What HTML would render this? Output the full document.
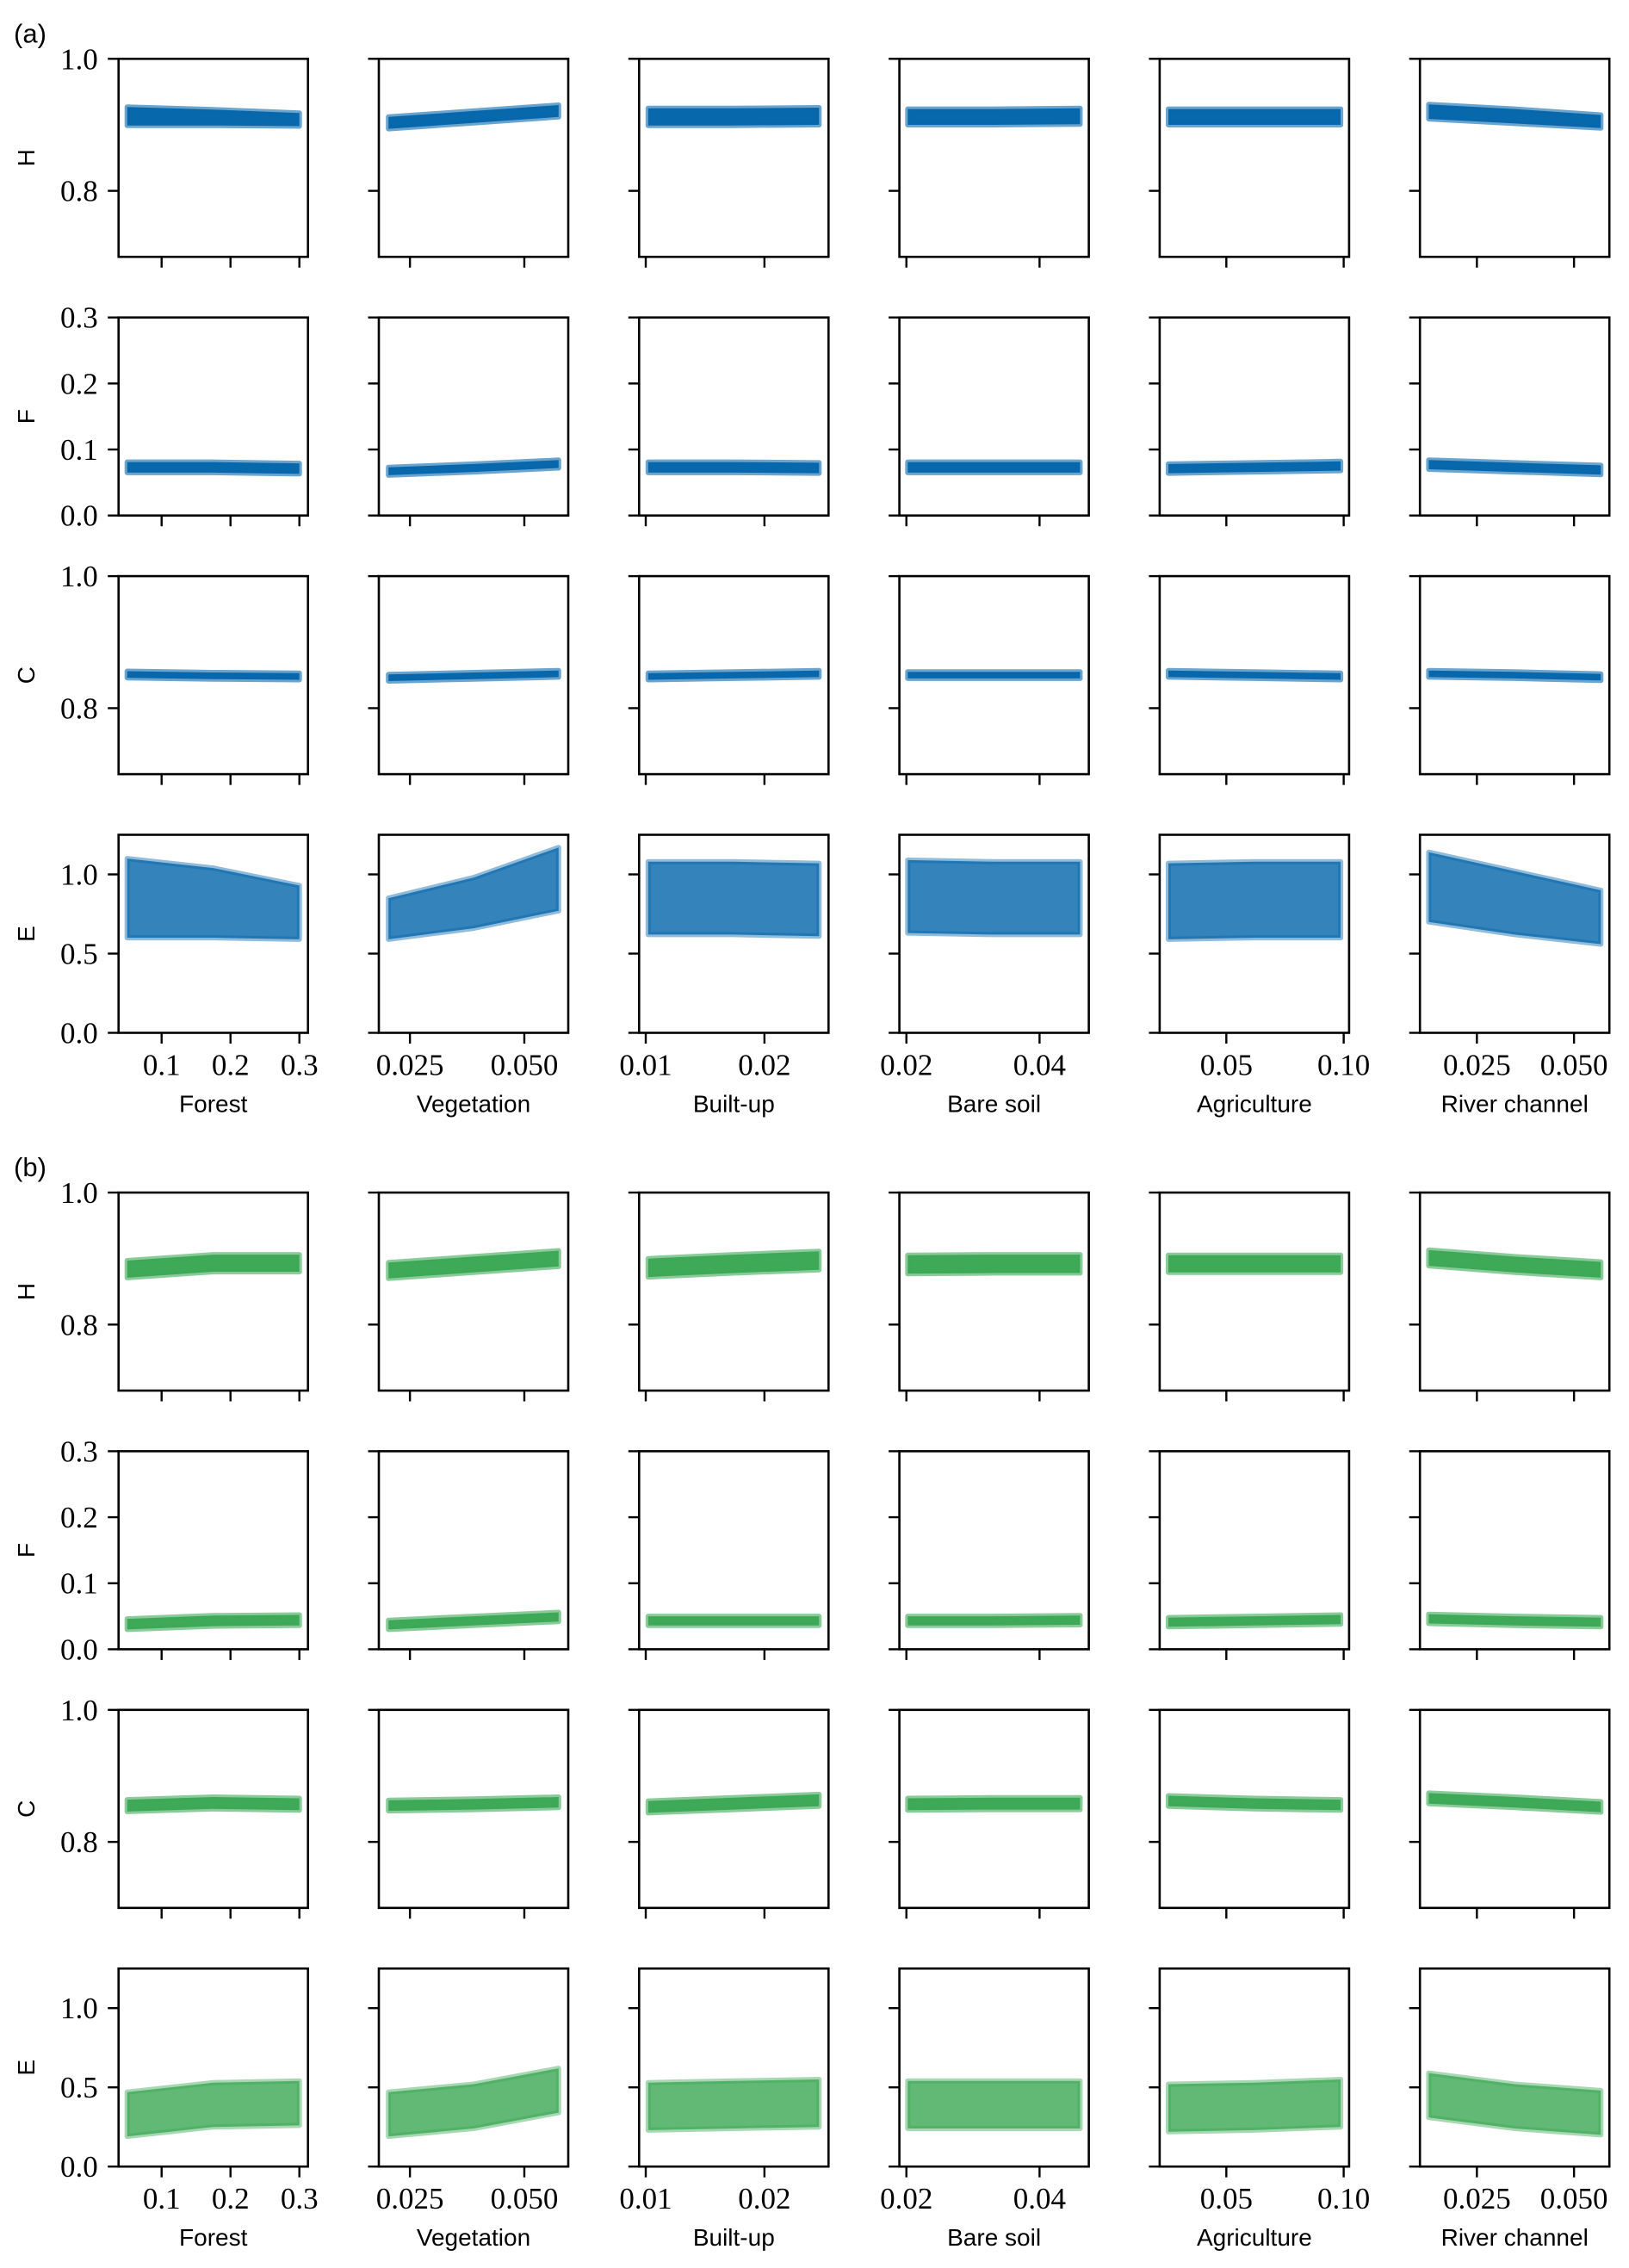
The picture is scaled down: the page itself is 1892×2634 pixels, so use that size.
<!DOCTYPE html>
<html><head><meta charset="utf-8"><style>
html,body{margin:0;padding:0;background:#fff}
svg{display:block}
.tl{font-family:"Liberation Serif",serif;font-size:35px;fill:#000}
.al{font-family:"Liberation Sans",sans-serif;font-size:28px;fill:#000}
</style></head><body>
<svg id="fig" width="1892" height="2634" viewBox="0 0 1892 2634" xmlns="http://www.w3.org/2000/svg"></svg>
<script>
// ---- data ----
const categories = ["Forest","Vegetation","Built-up","Bare soil","Agriculture","River channel"];
const variables = ["H","F","C","E"];
const xDomains = [[0.0375,0.3125],[0.0182,0.0596],[0.00944,0.0254],[0.01895,0.0474],[0.0216,0.1023],[0.01034,0.0591]];
const xDataRanges = [[0.05,0.30],[0.0203,0.0575],[0.0102,0.0246],[0.0202,0.0461],[0.0253,0.0987],[0.0126,0.0569]];
const xTicks = [[0.1,0.2,0.3],[0.025,0.05],[0.01,0.02],[0.02,0.04],[0.05,0.10],[0.025,0.05]];
const xTickLabels = [["0.1","0.2","0.3"],["0.025","0.050"],["0.01","0.02"],["0.02","0.04"],["0.05","0.10"],["0.025","0.050"]];
const yDomains = [[0.7,1.0],[0,0.3],[0.7,1.0],[0,1.25]];
const yTicks = [[0.8,1.0],[0,0.1,0.2,0.3],[0.8,1.0],[0,0.5,1.0]];
const yTickLabels = [["0.8","1.0"],["0.0","0.1","0.2","0.3"],["0.8","1.0"],["0.0","0.5","1.0"]];
// band centres (start, mid, end) and half-widths per panel: [variable][category]
const centerA_H = [[0.913,0.911,0.908],[0.903,0.912,0.921],[0.912,0.912,0.913],[0.912,0.912,0.913],[0.912,0.912,0.912],[0.920,0.913,0.905]];
const spreadA_H = [[0.014,0.012,0.010],[0.009,0.009,0.009],[0.013,0.013,0.013],[0.012,0.012,0.012],[0.012,0.012,0.012],[0.011,0.011,0.010]];
const centerA_F = [[0.073,0.073,0.071],[0.067,0.072,0.078],[0.073,0.073,0.072],[0.073,0.073,0.073],[0.071,0.073,0.075],[0.077,0.073,0.069]];
const spreadA_F = [[0.008,0.008,0.008],[0.006,0.006,0.006],[0.008,0.008,0.008],[0.008,0.008,0.008],[0.007,0.007,0.007],[0.007,0.007,0.007]];
const centerA_C = [[0.851,0.849,0.848],[0.846,0.849,0.852],[0.848,0.850,0.852],[0.850,0.850,0.850],[0.852,0.850,0.848],[0.852,0.850,0.847]];
const spreadA_C = [[0.005,0.005,0.005],[0.005,0.005,0.005],[0.005,0.005,0.005],[0.005,0.005,0.005],[0.005,0.005,0.005],[0.005,0.005,0.005]];
const centerA_E = [[0.85,0.82,0.76],[0.72,0.82,0.97],[0.85,0.85,0.84],[0.86,0.85,0.85],[0.83,0.84,0.84],[0.92,0.82,0.73]];
const spreadA_E = [[0.25,0.22,0.17],[0.13,0.16,0.20],[0.23,0.23,0.23],[0.23,0.23,0.23],[0.24,0.24,0.24],[0.22,0.20,0.17]];
const centerB_H = [[0.884,0.893,0.893],[0.882,0.891,0.900],[0.886,0.892,0.897],[0.891,0.892,0.892],[0.892,0.892,0.892],[0.901,0.891,0.883]];
const spreadB_H = [[0.013,0.013,0.013],[0.012,0.012,0.012],[0.014,0.014,0.014],[0.014,0.014,0.014],[0.013,0.013,0.013],[0.012,0.012,0.012]];
const centerB_F = [[0.038,0.043,0.044],[0.037,0.043,0.049],[0.043,0.043,0.043],[0.043,0.043,0.044],[0.041,0.043,0.045],[0.046,0.043,0.041]];
const spreadB_F = [[0.008,0.008,0.008],[0.007,0.007,0.007],[0.007,0.007,0.007],[0.007,0.007,0.007],[0.007,0.007,0.007],[0.007,0.007,0.007]];
const centerB_C = [[0.855,0.859,0.857],[0.855,0.857,0.860],[0.853,0.858,0.863],[0.857,0.858,0.858],[0.862,0.858,0.856],[0.866,0.860,0.853]];
const spreadB_C = [[0.009,0.009,0.009],[0.008,0.008,0.008],[0.009,0.009,0.009],[0.009,0.009,0.009],[0.008,0.008,0.008],[0.008,0.008,0.008]];
const centerB_E = [[0.33,0.39,0.40],[0.33,0.38,0.48],[0.38,0.39,0.40],[0.39,0.39,0.39],[0.37,0.38,0.40],[0.45,0.38,0.34]];
const spreadB_E = [[0.14,0.14,0.14],[0.14,0.14,0.14],[0.15,0.15,0.15],[0.15,0.15,0.15],[0.15,0.15,0.15],[0.14,0.14,0.14]];

// ---- layout ----
const NS = "http://www.w3.org/2000/svg";
const svg = document.getElementById("fig");
const colLeft0 = 137.7, colStep = 302.3, panelW = 220;
const rowTop0 = 68.3, rowStep = 300.4, panelH = 230, groupOffset = 1316.7;
const groups = [
  {label:"(a)", color:"#0868ac", centers:[centerA_H,centerA_F,centerA_C,centerA_E], spreads:[spreadA_H,spreadA_F,spreadA_C,spreadA_E]},
  {label:"(b)", color:"#3ea957", centers:[centerB_H,centerB_F,centerB_C,centerB_E], spreads:[spreadB_H,spreadB_F,spreadB_C,spreadB_E]}
];
function mk(tag, attrs, parent){
  const e = document.createElementNS(NS, tag);
  for (const k in attrs) e.setAttribute(k, attrs[k]);
  (parent||svg).appendChild(e);
  return e;
}
groups.forEach((g, gi) => {
  const gTop = rowTop0 + gi*groupOffset;
  const lab = mk("text", {x:16, y:gTop-19, "font-family":"Liberation Sans, sans-serif", "font-size":31});
  
  
  lab.textContent = g.label;
  variables.forEach((v, vi) => {
    const top = gTop + vi*rowStep, bottom = top + panelH;
    const [y0, y1] = yDomains[vi];
    const yS = val => bottom - (val - y0)/(y1 - y0)*panelH;
    categories.forEach((c, ci) => {
      const left = colLeft0 + ci*colStep, right = left + panelW;
      const [x0, x1] = xDomains[ci];
      const xS = val => left + (val - x0)/(x1 - x0)*panelW;
      const grp = mk("g", {});
      
      
      const cen = g.centers[vi][ci], spr = g.spreads[vi][ci];
      const [d0, d1] = xDataRanges[ci];
      const xs = [d0, (d0+d1)/2, d1];
      const upper = xs.map((x,i)=>[xS(x), yS(cen[i]+spr[i])]);
      const lower = xs.map((x,i)=>[xS(x), yS(cen[i]-spr[i])]).reverse();
      const pts = upper.concat(lower).map(p=>p[0].toFixed(1)+","+p[1].toFixed(1)).join(" ");
      const isE = vi === 3;
      const band = mk("polygon", {points:pts, fill:g.color, stroke:g.color, "stroke-width":6, "stroke-linejoin":"round",
        "fill-opacity": isE ? 0.82 : 1, "stroke-opacity": isE ? 0.45 : 0.6}, grp);
      
      
      const fr = mk("rect", {x:left, y:top, width:panelW, height:panelH, fill:"none", stroke:"#000", "stroke-width":2.6}, grp);
      
      
      xTicks[ci].forEach((t, ti) => {
        const x = xS(t);
        const tk = mk("line", {x1:x, y1:bottom, x2:x, y2:bottom+12.5, stroke:"#000", "stroke-width":2.4}, grp);
        
        
        if (isE) {
          const tl = mk("text", {x:x, y:bottom+49, "text-anchor":"middle", class:"tl"}, grp);
          
          
          tl.textContent = xTickLabels[ci][ti];
        }
      });
      if (isE) {
        const xl = mk("text", {x:(left+right)/2, y:bottom+92, "text-anchor":"middle", class:"al"}, grp);
        
        
        xl.textContent = c;
      }
      yTicks[vi].forEach((t, ti) => {
        const y = yS(t);
        const tk = mk("line", {x1:left-12.5, y1:y, x2:left, y2:y, stroke:"#000", "stroke-width":2.4}, grp);
        
        
        if (ci === 0) {
          const tl = mk("text", {x:left-24, y:y+12, "text-anchor":"end", class:"tl"}, grp);
          
          
          tl.textContent = yTickLabels[vi][ti];
        }
      });
      if (ci === 0) {
        const cy = (top+bottom)/2;
        const yl = mk("text", {x:40, y:cy, "text-anchor":"middle", class:"al", transform:"rotate(-90 40 "+cy+")"}, grp);
        
        
        yl.textContent = v;
      }
    });
  });
});
</script>
</body></html>
